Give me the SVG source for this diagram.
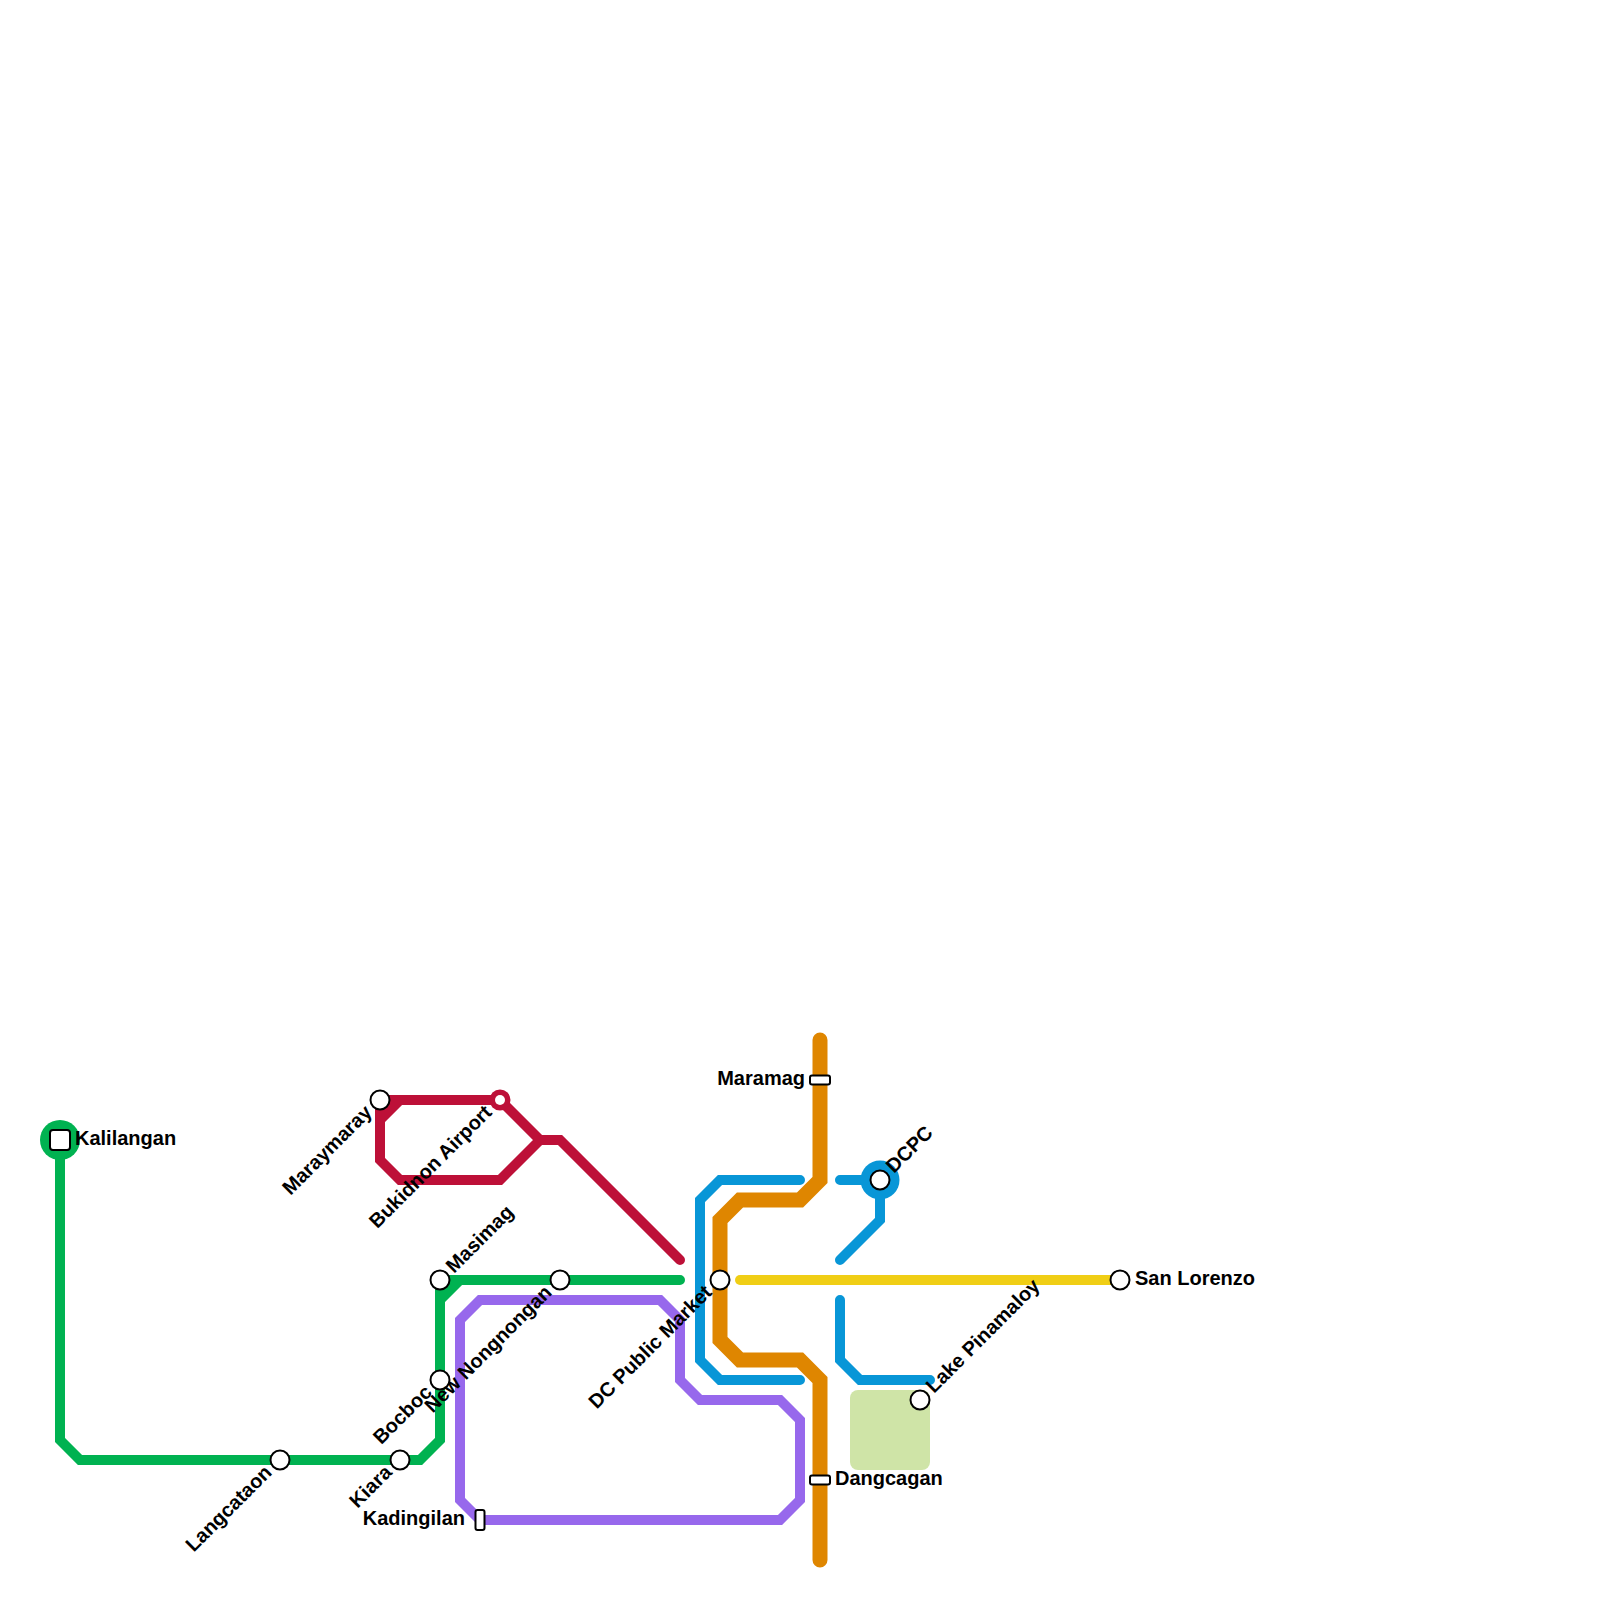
<svg xmlns="http://www.w3.org/2000/svg" width="1600" height="1600" viewBox="0 0 1600 1600">
<style>
.l{fill:none;stroke-width:10;stroke-linecap:round;stroke-linejoin:miter}
.g{stroke:#00b251}.r{stroke:#bd1038}.p{stroke:#9768ec}.b{stroke:#0896d7}.o{stroke:#df8600;stroke-width:15}.y{stroke:#f0ce15}
.s{fill:#fff;stroke:#000;stroke-width:2}
text{font-family:"Liberation Sans",Arial,sans-serif;font-weight:700;font-size:20px;fill:#000}
.e{text-anchor:end}
</style>
<rect x="850" y="1390" width="80" height="80" rx="8" fill="#cfe4a7"/>
<g id="connectors">
<path class="l g" d="M60 1140V1440L80 1460H420L440 1440V1300L460 1280H680M440 1280H460M440 1280V1300"/>
<path class="l r" d="M380 1100H500L540 1140H560L680 1260M540 1140L500 1180H400L380 1160V1100M380 1120L400 1100"/>
<path class="l p" d="M480 1520L460 1500V1320L480 1300H660L680 1320V1380L700 1400H780L800 1420V1500L780 1520H480"/>
<path class="l b" d="M800 1180H720L700 1200V1360L720 1380H800"/>
<path class="l b" d="M840 1180H880V1220L840 1260"/>
<path class="l b" d="M840 1300V1360L860 1380H930"/>
<path class="l o" d="M820 1040V1180L800 1200H740L720 1220V1340L740 1360H800L820 1380V1560"/>
<path class="l y" d="M740 1280H1120"/>
</g>
<g id="kalilangan"><circle cx="60" cy="1140" r="20" fill="#00b251"/><rect class="s" x="50" y="1130" width="20" height="20" rx="3"/><text x="75" y="1145">Kalilangan</text></g>
<g id="langcataon"><circle class="s" cx="280" cy="1460" r="9.5"/><text class="e" transform="translate(273 1473.5) rotate(-45)">Langcataon</text></g>
<g id="kiara"><circle class="s" cx="400" cy="1460" r="9.5"/><text class="e" transform="translate(393 1473.5) rotate(-45)">Kiara</text></g>
<g id="bocboc"><circle class="s" cx="440" cy="1380" r="9.5"/><text class="e" transform="translate(433 1393.5) rotate(-45)">Bocboc</text></g>
<g id="masimag"><circle class="s" cx="440" cy="1280" r="9.5"/><text transform="translate(454 1274) rotate(-45)">Masimag</text></g>
<g id="new-nongnongan"><circle class="s" cx="560" cy="1280" r="9.5"/><text class="e" transform="translate(553 1293.5) rotate(-45)">New Nongnongan</text></g>
<g id="maraymaray"><circle class="s" cx="380" cy="1100" r="9.5"/><text class="e" transform="translate(373 1113.5) rotate(-45)">Maraymaray</text></g>
<g id="bukidnon-airport"><circle cx="500" cy="1100" r="10.5" fill="#bd1038"/><circle cx="500" cy="1100" r="5" fill="#fff"/><text class="e" transform="translate(493 1113.5) rotate(-45)">Bukidnon Airport</text></g>
<g id="kadingilan"><rect class="s" x="475.5" y="1510" width="9" height="20" rx="2"/><text class="e" x="465" y="1525">Kadingilan</text></g>
<g id="dc-public-market"><circle class="s" cx="720" cy="1280" r="9.5"/><text class="e" transform="translate(713 1293.5) rotate(-45)">DC Public Market</text></g>
<g id="maramag"><rect class="s" x="810" y="1075.5" width="20" height="9" rx="2"/><text class="e" x="805" y="1085">Maramag</text></g>
<g id="dangcagan"><rect class="s" x="810" y="1475.5" width="20" height="9" rx="2"/><text x="835" y="1485">Dangcagan</text></g>
<g id="dcpc"><circle cx="880" cy="1180" r="19.5" fill="#0896d7"/><circle class="s" cx="880" cy="1180" r="9.5"/><text transform="translate(894 1174) rotate(-45)">DCPC</text></g>
<g id="lake-pinamaloy"><circle class="s" cx="920" cy="1400" r="9.5"/><text transform="translate(934 1394) rotate(-45)">Lake Pinamaloy</text></g>
<g id="san-lorenzo"><circle class="s" cx="1120" cy="1280" r="9.5"/><text x="1135" y="1285">San Lorenzo</text></g>
</svg>
